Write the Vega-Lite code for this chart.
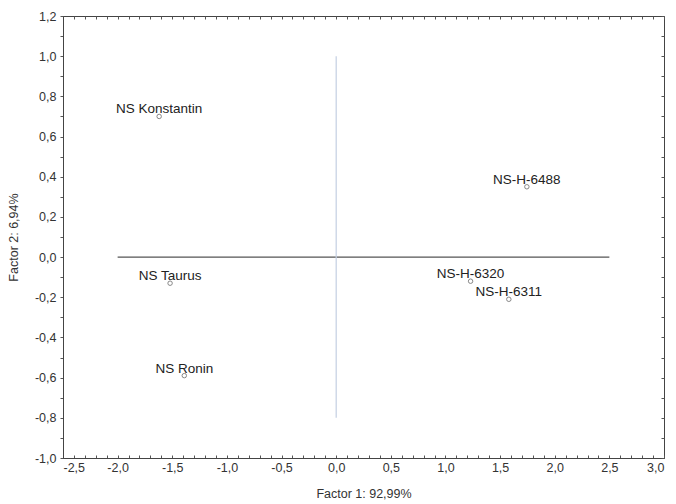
{
  "$schema": "https://vega.github.io/schema/vega-lite/v6.json",
  "width": 601,
  "height": 442,
  "autosize": {"type": "none"},
  "padding": {"left": 63, "top": 16, "right": 12, "bottom": 46},
  "background": "white",
  "config": {
    "locale": {"number": {"decimal": ",", "thousands": ".", "grouping": [3], "currency": ["", " €"], "minus": "-"}},
    "view": {"stroke": "#444", "strokeWidth": 1},
    "axis": {
      "labelFont": "Liberation Sans",
      "labelFontSize": 12.5,
      "labelColor": "#333",
      "titleFont": "Liberation Sans",
      "titleFontSize": 12.5,
      "titleFontWeight": "normal",
      "titleColor": "#333",
      "domainColor": "#444",
      "tickColor": "#555",
      "gridColor": "#eceef4",
      "labelOverlap": false
    },
    "text": {"font": "Liberation Sans"}
  },
  "datasets": {
    "pts": [
      {"name": "NS Konstantin", "f1": -1.62, "f2": 0.70},
      {"name": "NS Taurus", "f1": -1.52, "f2": -0.13},
      {"name": "NS Ronin", "f1": -1.39, "f2": -0.59},
      {"name": "NS-H-6488", "f1": 1.745, "f2": 0.35},
      {"name": "NS-H-6320", "f1": 1.23, "f2": -0.12},
      {"name": "NS-H-6311", "f1": 1.58, "f2": -0.21}
    ],
    "hline": [{"f1": -2.0, "f2": 0}, {"f1": 2.5, "f2": 0}],
    "vline": [{"f1": 0, "f2": 1.0}, {"f1": 0, "f2": -0.8}]
  },
  "layer": [
    {
      "data": {"name": "hline"},
      "mark": {"type": "line", "color": "#555", "strokeWidth": 1.3},
      "encoding": {
        "x": {"field": "f1", "type": "quantitative", "scale": {"domain": [-2.5, 3.0], "nice": false, "zero": false},
          "axis": {"orient": "top", "values": [-2.5,-2.4,-2.3,-2.2,-2.1,-2.0,-1.9,-1.8,-1.7,-1.6,-1.5,-1.4,-1.3,-1.2,-1.1,-1.0,-0.9,-0.8,-0.7,-0.6,-0.5,-0.4,-0.3,-0.2,-0.1,0,0.1,0.2,0.3,0.4,0.5,0.6,0.7,0.8,0.9,1.0,1.1,1.2,1.3,1.4,1.5,1.6,1.7,1.8,1.9,2.0,2.1,2.2,2.3,2.4,2.5,2.6,2.7,2.8,2.9,3.0], "labels": false, "title": null, "grid": false, "tickSize": -3, "domain": false}},
        "y": {"field": "f2", "type": "quantitative", "scale": {"domain": [-1.0, 1.2], "nice": false, "zero": false},
          "axis": {"orient": "right", "values": [-1.0,-0.9,-0.8,-0.7,-0.6,-0.5,-0.4,-0.3,-0.2,-0.1,0,0.1,0.2,0.3,0.4,0.5,0.6,0.7,0.8,0.9,1.0,1.1,1.2], "labels": false, "title": null, "grid": false, "tickSize": -3, "domain": false}}
      }
    },
    {
      "data": {"name": "vline"},
      "mark": {"type": "line", "color": "#c3cfe2", "strokeWidth": 1.2},
      "encoding": {
        "x": {"field": "f1", "type": "quantitative", "axis": null},
        "y": {"field": "f2", "type": "quantitative", "axis": null}
      }
    },
    {
      "data": {"name": "pts"},
      "mark": {"type": "point", "shape": "circle", "size": 20, "filled": false, "stroke": "#555", "strokeWidth": 1},
      "encoding": {
        "x": {"field": "f1", "type": "quantitative", "title": "Factor 1: 92,99%",
          "axis": {"orient": "bottom", "values": [-2.5,-2.4,-2.3,-2.2,-2.1,-2.0,-1.9,-1.8,-1.7,-1.6,-1.5,-1.4,-1.3,-1.2,-1.1,-1.0,-0.9,-0.8,-0.7,-0.6,-0.5,-0.4,-0.3,-0.2,-0.1,0,0.1,0.2,0.3,0.4,0.5,0.6,0.7,0.8,0.9,1.0,1.1,1.2,1.3,1.4,1.5,1.6,1.7,1.8,1.9,2.0,2.1,2.2,2.3,2.4,2.5,2.6,2.7,2.8,2.9,3.0],
            "format": ".1f", "labelExpr": "abs(round(datum.value*10)) % 5 == 0 ? datum.label : ''",
            "tickSize": -3, "labelPadding": 6, "titlePadding": 14,
            "gridOpacity": {"condition": {"test": "abs(round(datum.value*10)) % 5 == 0", "value": 1}, "value": 0}}},
        "y": {"field": "f2", "type": "quantitative", "title": "Factor 2: 6,94%",
          "axis": {"orient": "left", "values": [-1.0,-0.9,-0.8,-0.7,-0.6,-0.5,-0.4,-0.3,-0.2,-0.1,0,0.1,0.2,0.3,0.4,0.5,0.6,0.7,0.8,0.9,1.0,1.1,1.2],
            "format": ".1f", "labelExpr": "abs(round(datum.value*10)) % 2 == 0 ? datum.label : ''",
            "tickSize": 3, "labelPadding": 4, "titlePadding": 14,
            "gridOpacity": {"condition": {"test": "abs(round(datum.value*10)) % 2 == 0", "value": 1}, "value": 0}}}
      }
    },
    {
      "data": {"name": "pts"},
      "mark": {"type": "text", "fontSize": 13.5, "color": "#222", "align": "center", "baseline": "middle", "dy": -7},
      "encoding": {
        "x": {"field": "f1", "type": "quantitative", "axis": null},
        "y": {"field": "f2", "type": "quantitative", "axis": null},
        "text": {"field": "name"}
      }
    }
  ],
  "resolve": {"axis": {"x": "independent", "y": "independent"}}
}
